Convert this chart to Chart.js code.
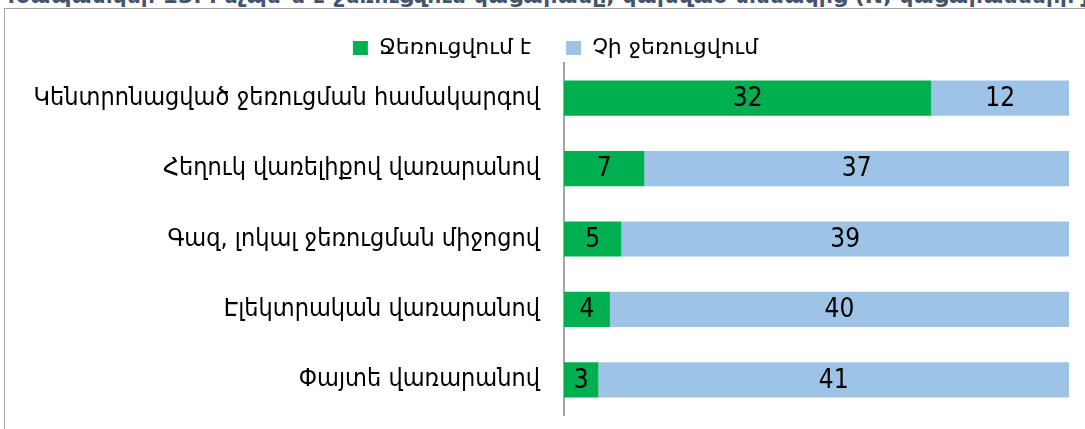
<!DOCTYPE html>
<html>
<head>
<meta charset="utf-8">
<script src="https://cdn.jsdelivr.net/npm/chart.js@4.4.0/dist/chart.umd.min.js"></script>
<style>
    body { margin: 0; background: #fff; overflow: hidden; }
    #title {
        position: absolute; left: 0; top: -17px; white-space: nowrap;
        font: bold 22px "DejaVu Sans", sans-serif; color: #44546A;
    }
    #box {
        position: absolute; left: 4px; top: 8px; width: 1090px; height: 440px;
        border: 1px solid #A6A6A6; background: #fff;
    }
</style>
</head>
<body>
<div id="title">Գծապատկեր 13. Ինչպե՞ս է ջեռուցվում կացարանը, կախված տեսակից (N, կացարանների քանակ)</div>
<div id="box"><canvas id="myChart" width="1088" height="438"></canvas></div>
<script>
var categories = [
    "Կենտրոնացված ջեռուցման համակարգով",
    "Հեղուկ վառելիքով վառարանով",
    "Գազ, լոկալ ջեռուցման միջոցով",
    "Էլեկտրական վառարանով",
    "Փայտե վառարանով"
];
var heated = [32, 7, 5, 4, 3];
var notHeated = [12, 37, 39, 40, 41];

var fontName = '"DejaVu Sans Condensed", "DejaVu Sans", sans-serif';

// writes the value in the middle of every bar
var barValues = {
    id: 'barValues',
    afterDatasetsDraw: function (chart) {
        var ctx = chart.ctx;
        ctx.save();
        ctx.font = '26px ' + fontName;
        ctx.fillStyle = '#000';
        ctx.textAlign = 'center';
        ctx.textBaseline = 'middle';
        chart.data.datasets.forEach(function (ds, i) {
            chart.getDatasetMeta(i).data.forEach(function (bar, j) {
                ctx.fillText(ds.data[j], (bar.x + bar.base) / 2, bar.y + 1);
            });
        });
        ctx.restore();
    }
};

// the legend sits a bit right of the canvas centre
var legendShift = {
    id: 'legendShift',
    afterLayout: function (chart) {
        chart.legend.left += 37;
    }
};

var ctx = document.getElementById("myChart").getContext('2d');

var myChart = new Chart(ctx, {
    type: 'bar',
    data: {
        labels: categories,
        datasets: [
            {
                label: "Ջեռուցվում է",
                data: heated,
                backgroundColor: "#00B050",
                barPercentage: 0.5,
                categoryPercentage: 1
            },
            {
                label: "Չի ջեռուցվում",
                data: notHeated,
                backgroundColor: "#9DC3E6",
                barPercentage: 0.5,
                categoryPercentage: 1
            }
        ]
    },
    options: {
        indexAxis: 'y',
        responsive: false,
        animation: false,
        layout: { padding: { top: -7, right: 24, bottom: 32, left: 0 } },
        plugins: {
            legend: {
                maxHeight: 61,
                labels: {
                    boxWidth: 15,
                    boxHeight: 14,
                    padding: 35,
                    color: '#000',
                    font: { family: '"DejaVu Sans", sans-serif', size: 22 }
                }
            },
            tooltip: { enabled: false }
        },
        scales: {
            x: {
                stacked: true,
                display: false,
                min: 0,
                max: 44
            },
            y: {
                stacked: true,
                grid: { display: false, drawTicks: true, tickLength: 24 },
                border: { display: true, color: '#A6A6A6', width: 2 },
                ticks: {
                    padding: 0,
                    color: '#000',
                    font: { family: fontName, size: 25 }
                },
                afterFit: function (scale) { scale.width = 559; }
            }
        }
    },
    plugins: [barValues, legendShift]
});
</script>
</body>
</html>
